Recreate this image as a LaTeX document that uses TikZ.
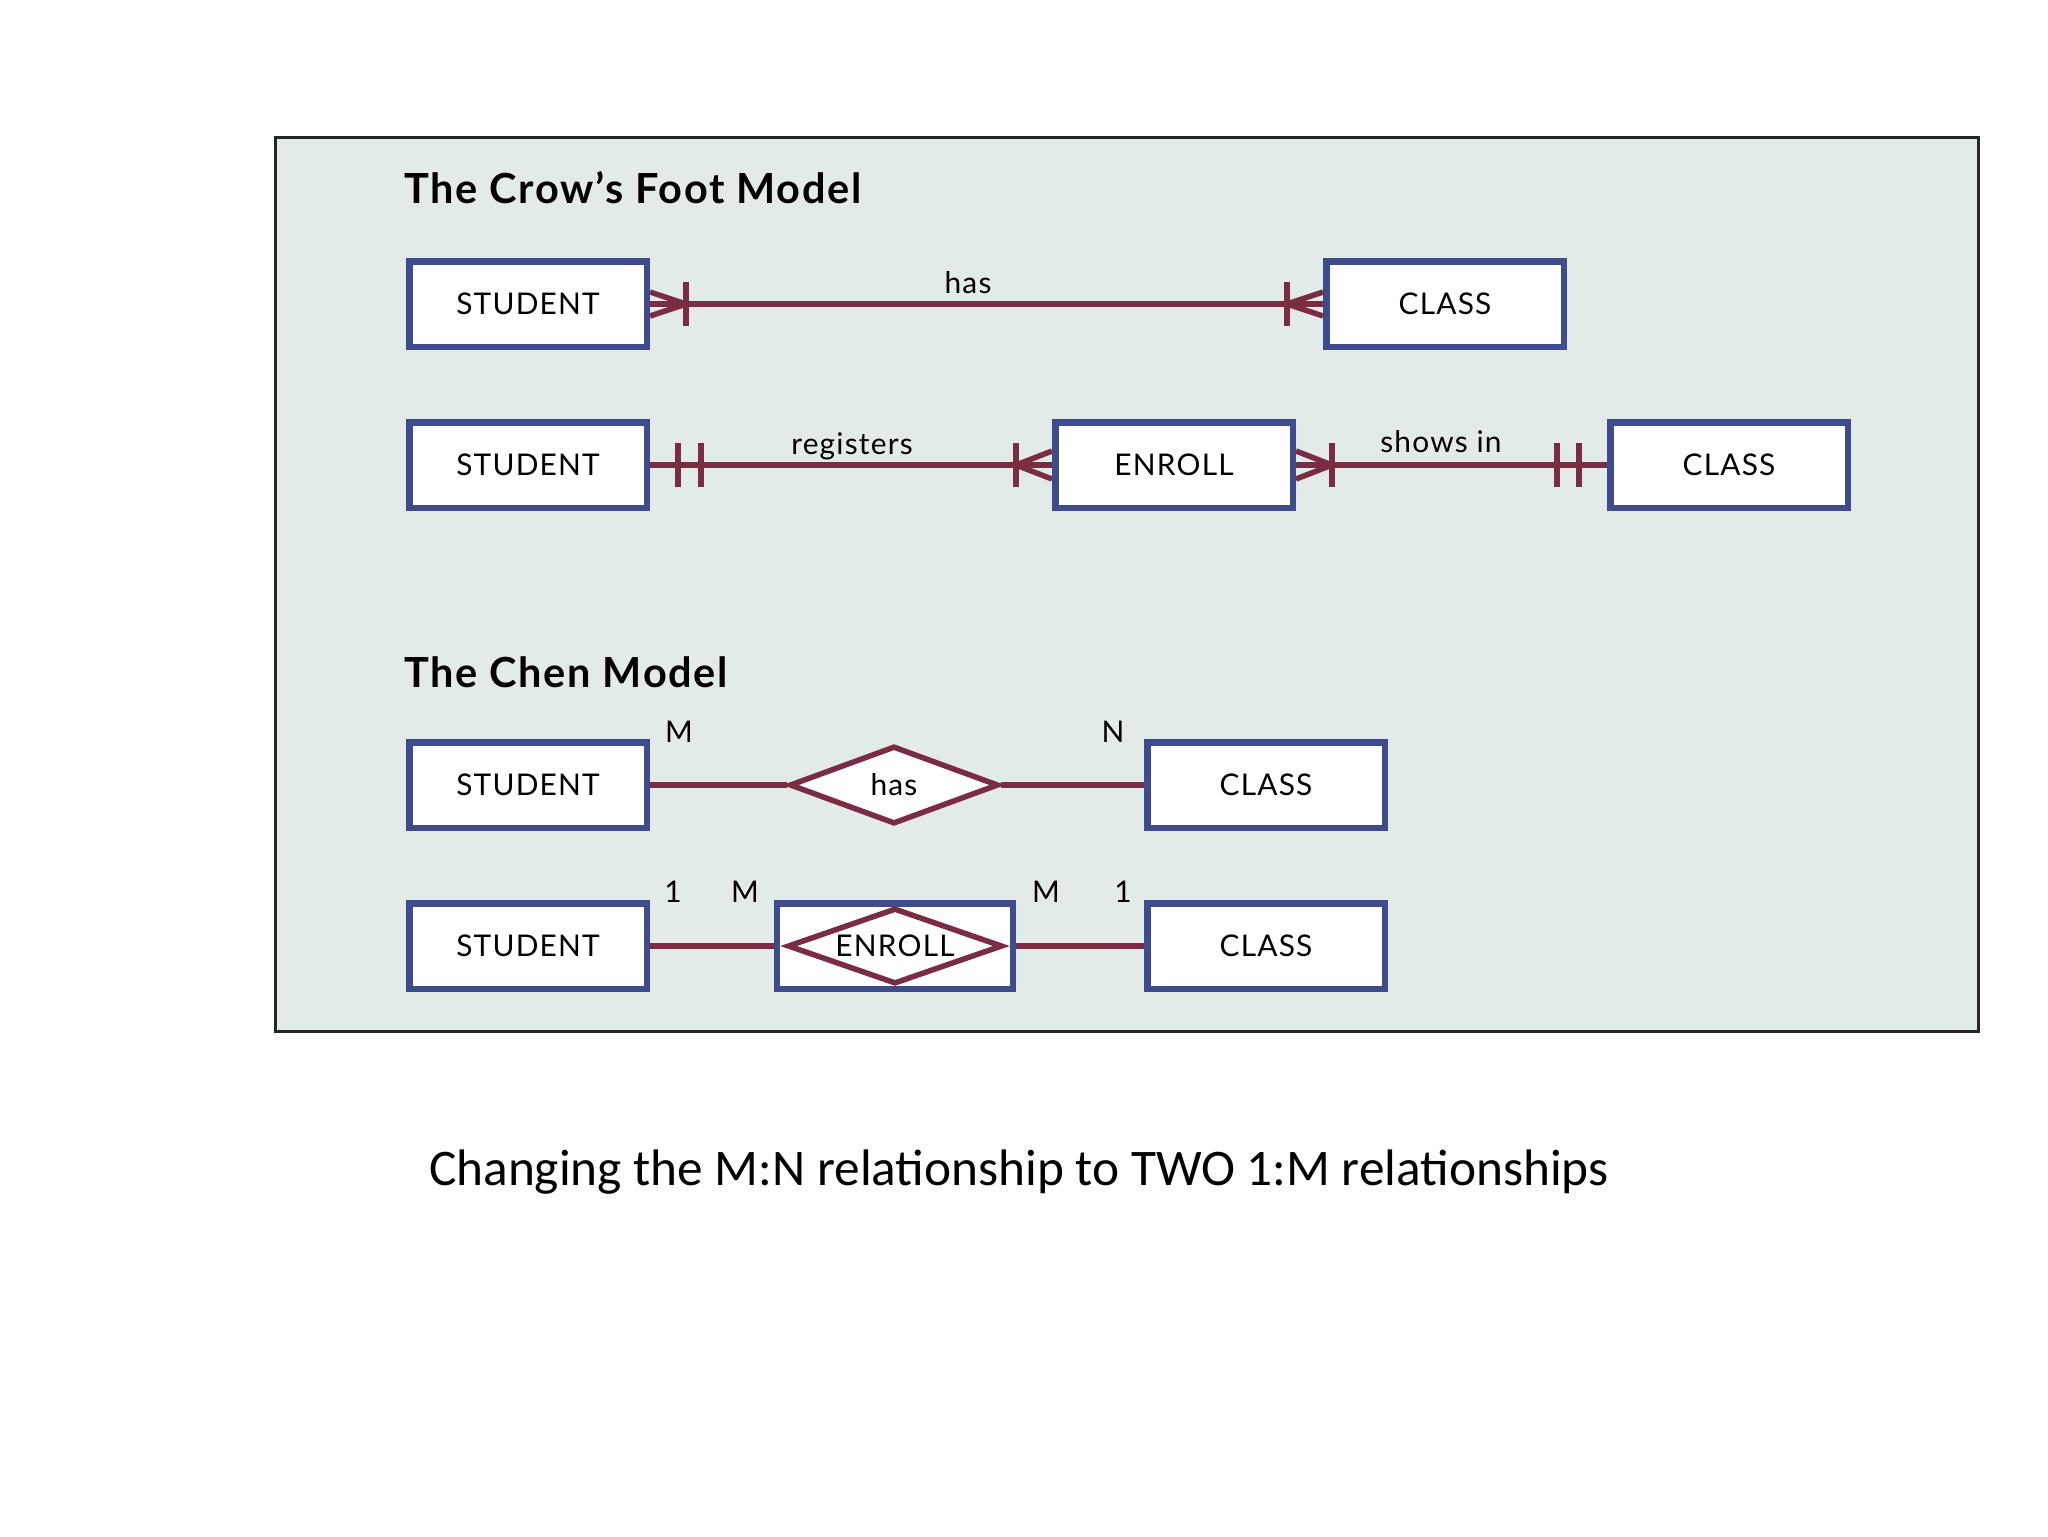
\documentclass[tikz,border=0pt]{standalone}
\usepackage{fontspec}
\setmainfont{Carlito}
\newfontfamily\erfont[LetterSpace=4]{Lato}
\usetikzlibrary{shapes.geometric}
\definecolor{panelbg}{HTML}{E2EBE8}
\definecolor{boxblue}{HTML}{3E4B8C}
\definecolor{linered}{HTML}{7B2C45}
\tikzset{
	entity/.style={draw=boxblue,line width=0.65mm,fill=white,minimum width=23.75mm,minimum height=8.55mm,inner sep=0pt,font=\erfont\fontsize{8.5}{10}\selectfont},
	relship/.style={diamond,aspect=2.7,draw=linered,line width=0.55mm,fill=white,minimum width=20.9mm,minimum height=7.8mm,inner sep=0pt,font=\erfont\fontsize{8.5}{10}\selectfont},
	conn/.style={draw=linered,line width=0.55mm},
	lbl/.style={font=\erfont\fontsize{8.5}{10}\selectfont,inner sep=0pt},
	heading/.style={font=\erfont\bfseries\fontsize{11.8}{14}\selectfont,anchor=west,inner sep=0pt}
}
\begin{document}
\begin{tikzpicture}[x=0.1mm,y=-0.1mm]
		\useasboundingbox (0,0) rectangle (2048,1536);
		\draw[draw=black!85,line width=0.3mm,fill=panelbg] (275,137) rectangle (1978,1031);
		\node[heading] (cfTitle) at (404,188) {The Crow’s Foot Model};
		\node[heading] (chTitle) at (404,672) {The Chen Model};
		% crow's foot, M:N
		\node[entity] (stA) at (528,304) {STUDENT};
		\node[entity] (clA) at (1445,304) {CLASS};
		\draw[conn] (stA.east) -- (clA.west);
		\draw[conn] ([yshift=1.2mm]stA.east) -- ([xshift=3.6mm]stA.east) -- ([yshift=-1.2mm]stA.east);
		\draw[conn] ([xshift=3.6mm,yshift=2.2mm]stA.east) -- ([xshift=3.6mm,yshift=-2.2mm]stA.east);
		\draw[conn] ([yshift=1.2mm]clA.west) -- ([xshift=-3.6mm]clA.west) -- ([yshift=-1.2mm]clA.west);
		\draw[conn] ([xshift=-3.6mm,yshift=2.2mm]clA.west) -- ([xshift=-3.6mm,yshift=-2.2mm]clA.west);
		\node[lbl] (hasA) at (968,283) {has};
		% crow's foot, two 1:M
		\node[entity] (stB) at (528,465) {STUDENT};
		\node[entity] (enA) at (1174,465) {ENROLL};
		\node[entity] (clB) at (1729,465) {CLASS};
		\draw[conn] (stB.east) -- (enA.west);
		\draw[conn] (enA.east) -- (clB.west);
		\draw[conn] ([xshift=2.8mm,yshift=2.2mm]stB.east) -- ([xshift=2.8mm,yshift=-2.2mm]stB.east);
		\draw[conn] ([xshift=5.1mm,yshift=2.2mm]stB.east) -- ([xshift=5.1mm,yshift=-2.2mm]stB.east);
		\draw[conn] ([yshift=1.4mm]enA.west) -- ([xshift=-3.6mm]enA.west) -- ([yshift=-1.4mm]enA.west);
		\draw[conn] ([xshift=-3.6mm,yshift=2.2mm]enA.west) -- ([xshift=-3.6mm,yshift=-2.2mm]enA.west);
		\draw[conn] ([yshift=1.4mm]enA.east) -- ([xshift=3.6mm]enA.east) -- ([yshift=-1.4mm]enA.east);
		\draw[conn] ([xshift=3.6mm,yshift=2.2mm]enA.east) -- ([xshift=3.6mm,yshift=-2.2mm]enA.east);
		\draw[conn] ([xshift=-2.8mm,yshift=2.2mm]clB.west) -- ([xshift=-2.8mm,yshift=-2.2mm]clB.west);
		\draw[conn] ([xshift=-5.0mm,yshift=2.2mm]clB.west) -- ([xshift=-5.0mm,yshift=-2.2mm]clB.west);
		\node[lbl] (regA) at (852,446) {registers};
		\node[lbl] (shoA) at (1441,442) {shows in};
		% chen, M:N
		\node[entity] (stC) at (528,785) {STUDENT};
		\node[relship] (hasD) at (894,785) {has};
		\node[entity] (clC) at (1266,785) {CLASS};
		\draw[conn] (stC.east) -- (hasD.west);
		\draw[conn] (hasD.east) -- (clC.west);
		\node[lbl] (cM) at (679,732) {M};
		\node[lbl] (cN) at (1113,732) {N};
		% chen, composite entity
		\node[entity] (stD) at (528,946) {STUDENT};
		\node[entity,minimum width=23.6mm] (enB) at (895,946) {};
		\node[relship,minimum width=21.5mm,minimum height=7.6mm] (enD) at (895,946) {ENROLL};
		\node[entity] (clD) at (1266,946) {CLASS};
		\draw[conn] (stD.east) -- (enB.west);
		\draw[conn] (enB.east) -- (clD.west);
		\node[lbl] (dOneA) at (673,892) {1};
		\node[lbl] (dMA) at (745,892) {M};
		\node[lbl] (dMB) at (1046,892) {M};
		\node[lbl] (dOneB) at (1123,892) {1};
		\node[font=\fontsize{14.6}{17}\selectfont] (caption) at (1019,1172) {Changing the M:N relationship to TWO 1:M relationships};
	\end{tikzpicture}
\end{document}
